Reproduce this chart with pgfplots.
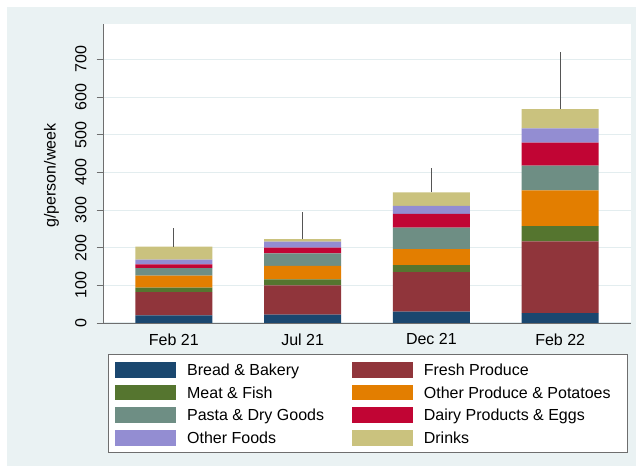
\documentclass[border=0pt]{standalone}
\usepackage{fontspec}
\setmainfont{Liberation Sans}
\usepackage{pgfplots}
\pgfplotsset{compat=1.18}
\definecolor{bgblue}{HTML}{EAF2F3}
\definecolor{gridc}{HTML}{E3EDEF}
\definecolor{axgray}{HTML}{6E6E6E}
\definecolor{errc}{HTML}{555555}
\definecolor{cnavy}{HTML}{1A476F}
\definecolor{cmaroon}{HTML}{90353B}
\definecolor{cgreen}{HTML}{55752F}
\definecolor{corange}{HTML}{E37E00}
\definecolor{cteal}{HTML}{6E8E84}
\definecolor{ccran}{HTML}{C10534}
\definecolor{clav}{HTML}{938DD2}
\definecolor{ckhaki}{HTML}{CAC27E}
\newcommand{\cA}[1]{\makebox[165pt][l]{#1}}
\newcommand{\cB}[1]{\makebox[196.7pt][l]{#1}}
\begin{document}
\fontsize{16}{19}\selectfont
\begin{tikzpicture}[x=1pt,y=1pt]
\path[use as bounding box] (0,0) rectangle (636,473);
\fill[white] (0,0) rectangle (636,473);
\fill[bgblue] (7,7) rectangle (636,466);
\begin{axis}[
  at={(103pt,150pt)}, anchor=south west,
  scale only axis, width=528pt, height=299pt,
  xmin=-0.55, xmax=3.55, ymin=0, ymax=794,
  enlargelimits=false,
  ybar stacked, bar width=77pt,
  axis background/.style={fill=white},
  axis x line*=bottom, axis y line*=left,
  axis line style={draw=axgray, line width=0.9pt},
  xtick={0,1,2,3},
  xticklabels={Feb 21, Jul 21, Dec 21, Feb 22},
  xtick style={draw=none},
  ytick={0,100,...,700},
  tick align=outside, major tick length=6.3pt,
  ytick style={draw=axgray, line width=0.9pt},
  ymajorgrids, grid style={draw=gridc, line width=1pt},
  yticklabel style={rotate=90, anchor=south, inner sep=0pt},
  yticklabel shift=10pt,
  xticklabel style={anchor=north, inner sep=0pt},
  xticklabel shift=4pt,
  tick label style={font=\fontsize{16}{19}\selectfont},
  /pgf/number format/assume math mode=true,
  ylabel={g/person/week},
  ylabel style={at={(axis description cs:-0.0898,0.4933)}, anchor=base, inner sep=0pt, font=\fontsize{16}{19}\selectfont},
  legend columns=2,
  legend cell align=left,
  legend image code/.code={\fill[#1] (0pt,-7.8pt) rectangle (60.7pt,7.8pt);},
  legend style={
    at={(axis description cs:0.01004,-0.10468)}, anchor=north west,
    draw=axgray, line width=0.9pt, fill=white,
    inner xsep=6.7pt, inner ysep=7.4pt,
    row sep=7pt,
    /tikz/every odd column/.append style={column sep=11pt},
    /tikz/every even column/.append style={column sep=0pt},
    nodes={inner sep=0pt, text height=11.5pt, text depth=0pt, font=\fontsize{16}{19}\selectfont},
  },
]
\addplot[fill=cnavy, draw=none] coordinates {(0,20) (1,22) (2,30) (3,26)};
\addlegendentry{\cA{Bread \& Bakery}}
\addplot[fill=cmaroon, draw=none] coordinates {(0,62) (1,78) (2,105) (3,191)};
\addlegendentry{\cB{Fresh Produce}}
\addplot[fill=cgreen, draw=none] coordinates {(0,12) (1,16) (2,19) (3,40)};
\addlegendentry{\cA{Meat \& Fish}}
\addplot[fill=corange, draw=none] coordinates {(0,32) (1,36) (2,42) (3,95)};
\addlegendentry{\cB{Other Produce \& Potatoes}}
\addplot[fill=cteal, draw=none] coordinates {(0,20) (1,33) (2,57) (3,66)};
\addlegendentry{\cA{Pasta \& Dry Goods}}
\addplot[fill=ccran, draw=none] coordinates {(0,10) (1,15) (2,37) (3,61)};
\addlegendentry{\cB{Dairy Products \& Eggs}}
\addplot[fill=clav, draw=none] coordinates {(0,12) (1,16) (2,21) (3,38)};
\addlegendentry{\cA{Other Foods}}
\addplot[fill=ckhaki, draw=none] coordinates {(0,35) (1,7) (2,36) (3,51)};
\addlegendentry{\cB{Drinks}}
\end{axis}
\begin{axis}[
  at={(103pt,150pt)}, anchor=south west,
  scale only axis, width=528pt, height=299pt,
  xmin=-0.55, xmax=3.55, ymin=0, ymax=794,
  hide axis,
]
\addplot[errc, line width=1.2pt] coordinates {(0,203) (0,252)};
\addplot[errc, line width=1.2pt] coordinates {(1,223) (1,294)};
\addplot[errc, line width=1.2pt] coordinates {(2,347) (2,411)};
\addplot[errc, line width=1.2pt] coordinates {(3,568) (3,720)};
\end{axis}
\end{tikzpicture}
\end{document}
